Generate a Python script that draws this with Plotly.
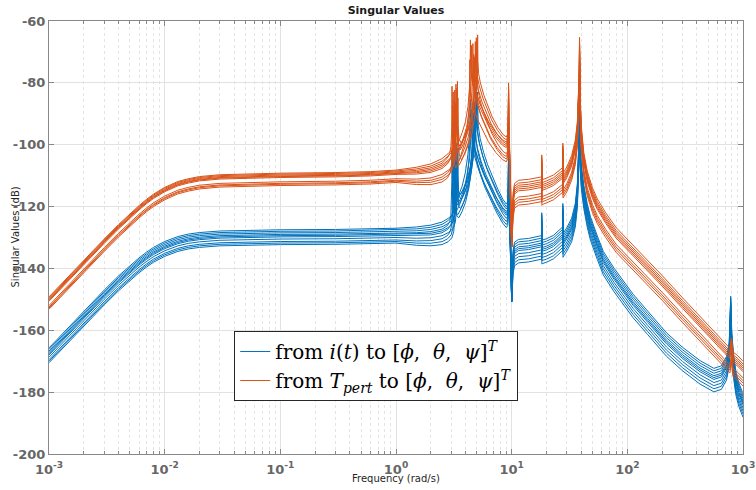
import numpy as np
import plotly.graph_objects as go

# ---------------- data ----------------
# Knot frequencies (rad/s) and top-line singular value (dB) of each family
ORANGE_FREQ = [0.001, 0.002, 0.003, 0.004, 0.005, 0.006, 0.007, 0.008, 0.01, 0.013,
               0.016, 0.02, 0.03, 0.05, 0.1, 0.3, 0.6, 1.0, 1.5, 2.0,
               2.5, 2.8, 3.0, 3.1, 3.16, 3.19, 3.2, 3.21, 3.24, 3.3,
               3.45, 3.7, 4.0, 4.3, 4.55, 4.7, 4.77, 4.8, 4.83, 4.9,
               5.1, 5.5, 6.0, 6.6, 7.5, 8.4, 9.0, 9.25, 9.35, 9.4,
               9.45, 9.6, 9.8, 9.93, 10.0, 10.1, 10.3, 10.6, 11.5, 14.0,
               18.15, 18.2, 18.25, 18.5, 20.0, 23.0, 27.6, 27.7, 27.8, 28.3,
               30.0, 33.0, 35.5, 37.0, 38.0, 38.4, 38.6, 38.8, 39.2,
               40.0, 42.0, 45.0, 50.0, 55.0, 65.0, 80.0, 100.0, 150.0, 200.0,
               300.0, 500.0, 700.0, 770.0, 795.0, 820.0, 900.0, 1000.0]
ORANGE_DB = [-149.2, -137.3, -130.5, -125.8, -122.3, -119.7, -117.6, -116.0, -113.8, -111.9,
             -111.0, -110.3, -109.7, -109.4, -109.2, -109.0, -108.7, -108.2, -107.3, -106.2,
             -104.5, -102.8, -101.3, -99.0, -95.0, -88.0, -79.5, -88.0, -94.0, -98.0,
             -99.5, -97.5, -94.5, -91.0, -86.0, -80.0, -74.0, -64.5, -73.0, -77.0,
             -80.0, -84.0, -87.5, -91.0, -94.5, -96.8, -97.5, -96.5, -90.0, -80.0,
             -92.0, -101.0, -112.0, -122.0, -133.0, -122.0, -115.5, -112.5, -111.5, -111.2,
             -110.4, -103.3, -111.6, -111.3, -110.8, -109.8, -107.4, -99.5, -109.2, -108.8,
             -107.2, -103.5, -98.5, -92.5, -84.0, -76.0, -65.3, -76.0, -85.0,
             -94.0, -102.5, -108.5, -114.0, -117.5, -122.0, -126.8, -130.5, -137.5, -142.3,
             -149.5, -158.5, -164.2, -165.8, -162.5, -167.0, -168.2, -170.0]

BLUE_FREQ = [0.001, 0.002, 0.003, 0.004, 0.005, 0.006, 0.007, 0.008, 0.01, 0.013,
             0.016, 0.02, 0.03, 0.05, 0.1, 0.3, 0.6, 1.0, 1.5, 2.0,
             2.5, 2.8, 3.0, 3.1, 3.16, 3.19, 3.2, 3.21, 3.24, 3.3,
             3.45, 3.7, 4.0, 4.3, 4.55, 4.7, 4.77, 4.8, 4.83, 4.9,
             5.1, 5.5, 6.0, 6.6, 7.5, 8.4, 9.0, 9.25, 9.35, 9.4,
             9.45, 9.6, 9.8, 9.93, 10.0, 10.1, 10.3, 10.6, 11.5, 14.0,
             18.15, 18.2, 18.25, 18.5, 20.0, 23.0, 27.6, 27.7, 27.8, 28.3,
             30.0, 33.0, 35.5, 37.0, 38.0, 38.4, 38.6, 38.8, 39.2,
             40.0, 42.0, 45.0, 48.0, 55.0, 62.0, 77.0, 100.0, 112.0, 150.0,
             218.0, 300.0, 425.0, 560.0, 650.0, 720.0, 760.0, 783.0, 800.0, 830.0,
             870.0, 920.0, 1000.0]
BLUE_DB = [-165.7, -153.8, -147.0, -142.4, -139.1, -136.6, -134.7, -133.2, -131.3, -129.7,
           -128.9, -128.4, -127.9, -127.65, -127.5, -127.4, -127.2, -127.0, -126.6, -126.0,
           -125.0, -123.8, -122.5, -120.5, -116.0, -109.0, -99.5, -108.0, -113.0, -115.5,
           -116.0, -114.0, -111.0, -106.5, -100.5, -94.5, -89.0, -83.0, -90.0, -94.0,
           -98.0, -102.5, -106.5, -110.0, -114.5, -117.8, -119.2, -118.5, -113.0, -100.0,
           -114.0, -122.0, -130.0, -140.0, -150.7, -140.0, -134.0, -131.5, -130.6, -130.3,
           -129.4, -122.0, -131.0, -130.8, -130.4, -129.3, -126.6, -119.0, -128.8, -128.3,
           -126.8, -123.8, -119.0, -112.5, -103.0, -95.0, -85.0, -95.0, -101.0,
           -106.5, -113.0, -119.0, -123.3, -129.5, -134.5, -140.0, -146.0, -148.3, -153.8,
           -160.8, -165.5, -169.8, -172.3, -171.5, -168.5, -164.0, -149.0, -161.0, -168.0,
           -173.5, -177.0, -180.5]

# notch at 10 rad/s is common to all the lines of a family
NOTCH_FREQ = 10.0

# per-line offsets (dB) from the top line: below 1 rad/s / above 2.8 rad/s
ORANGE_OFF_LOW = [0.0, -0.3, -0.6, -0.9, -1.1, -1.4, -2.8, -3.3, -3.6, -4.0]
ORANGE_OFF_HIGH = [0.0, -0.9, -1.6, -2.2, -2.8, -3.4, -5.4, -6.3, -7.1, -8.0]
BLUE_OFF_LOW = [0.0, -0.5, -1.0, -1.5, -1.9, -2.3, -3.0, -3.8, -4.3, -4.8]
BLUE_OFF_HIGH = [0.0, -0.8, -1.6, -2.4, -3.0, -3.6, -4.6, -5.6, -6.6, -7.6]
OFF_BAND = [1.0, 2.8]   # rad/s: spread widens between these frequencies

# per-line frequencies (rad/s) of the two low flexible modes
ORANGE_MODE1 = [3.40, 3.30, 3.05, 3.36, 3.22, 3.12, 3.43, 3.18, 3.27, 3.08]
ORANGE_MODE2 = [5.08, 4.95, 4.40, 4.85, 4.62, 4.50, 5.02, 4.70, 4.78, 4.35]
BLUE_MODE1 = [3.36, 3.24, 3.43, 3.05, 3.30, 3.15, 3.40, 3.10, 3.20, 3.27]
BLUE_MODE2 = [5.05, 4.90, 4.98, 4.40, 4.75, 4.55, 4.82, 4.45, 4.65, 4.70]

# base-curve mode positions (anchors of the knot frequencies)
BASE_ANCHORS = [2.7, 3.2, 4.8, 9.0]

TICK_X = [1e-3, 1e-2, 1e-1, 1e0, 1e1, 1e2, 1e3]
TICK_X_TEXT = ["10<sup>-3</sup>", "10<sup>-2</sup>", "10<sup>-1</sup>", "10<sup>0</sup>",
               "10<sup>1</sup>", "10<sup>2</sup>", "10<sup>3</sup>"]
TICK_Y = [-200, -180, -160, -140, -120, -100, -80, -60]
TICK_Y_TEXT = ["-200", "-180", "-160", "-140", "-120", "-100", "-80", "-60"]

LEGEND_BLUE = ("from <i>i</i>(<i>t</i>) to [<i>ϕ</i>,\u00a0 <i>θ</i>,\u00a0 <i>ψ</i>]"
               "<sup><i>T</i></sup>")
LEGEND_ORANGE = ("from <i>T<sub>pert</sub></i> to [<i>ϕ</i>,\u00a0 <i>θ</i>,\u00a0 <i>ψ</i>]"
                 "<sup><i>T</i></sup>")

BLUE = "#0072BD"
ORANGE = "#D95319"


def line_curve(freq, db, off_low, off_high, m1, m2):
    f = np.array(freq, dtype=float)
    d = np.array(db, dtype=float)
    # place the two modes of this line
    a = np.log10(BASE_ANCHORS)
    b = np.log10([BASE_ANCHORS[0], m1, m2, BASE_ANCHORS[3]])
    inside = (f > BASE_ANCHORS[0]) & (f < BASE_ANCHORS[3])
    f2 = f.copy()
    f2[inside] = 10 ** np.interp(np.log10(f[inside]), a, b)
    w = np.clip((np.log10(f) - np.log10(OFF_BAND[0])) /
                (np.log10(OFF_BAND[1]) - np.log10(OFF_BAND[0])), 0, 1)
    off = off_low + (off_high - off_low) * w
    off[f == NOTCH_FREQ] = 0.0
    return f2, d + off


fig = go.Figure()

families = [
    (BLUE_FREQ, BLUE_DB, BLUE_OFF_LOW, BLUE_OFF_HIGH, BLUE_MODE1, BLUE_MODE2, BLUE, LEGEND_BLUE),
    (ORANGE_FREQ, ORANGE_DB, ORANGE_OFF_LOW, ORANGE_OFF_HIGH, ORANGE_MODE1, ORANGE_MODE2, ORANGE, LEGEND_ORANGE),
]
for freq, db, olo, ohi, m1s, m2s, col, name in families:
    for k in range(len(olo)):
        x, y = line_curve(freq, db, olo[k], ohi[k], m1s[k], m2s[k])
        fig.add_trace(go.Scatter(
            x=x, y=y, mode="lines", line=dict(color=col, width=1),
            name=name, showlegend=(k == 0), legendgroup=name, hoverinfo="skip"))

minor_vals = [m * 10.0 ** e for e in range(-3, 3) for m in range(2, 10)]

axis_font = dict(family="DejaVu Sans", size=13, color="#666666", weight="bold")

fig.update_layout(
    width=756, height=490,
    margin=dict(l=49, r=13, t=21, b=36),
    paper_bgcolor="white", plot_bgcolor="white",
    title=dict(text="<b>Singular Values</b>", x=0.5238, xanchor="center",
               y=0.979, yanchor="middle",
               font=dict(family="DejaVu Sans", size=11, color="#1a1a1a")),
    showlegend=True,
    legend=dict(x=0.2669, xanchor="left", y=0.284, yanchor="top",
                bgcolor="white", bordercolor="#262626", borderwidth=1,
                font=dict(family="DejaVu Serif", size=20, color="#000000"),
                tracegroupgap=0, itemwidth=30),
    xaxis=dict(type="log", range=[-3, 3], tickvals=TICK_X, ticktext=TICK_X_TEXT,
               tickfont=axis_font, ticks="inside", ticklen=5, tickcolor="#888888",
               ticklabelstandoff=3,
               showline=True, linecolor="#888888", linewidth=1, mirror="ticks",
               showgrid=True, gridcolor="#e2e2e2", gridwidth=1, zeroline=False,
               automargin=False,
               minor=dict(tickvals=minor_vals, ticks="inside", ticklen=3, tickcolor="#888888",
                          showgrid=True, gridcolor="#e4e4e4", griddash="dot", gridwidth=1)),
    yaxis=dict(range=[-200, -60], tickvals=TICK_Y, ticktext=TICK_Y_TEXT, tickfont=axis_font,
               ticks="inside", ticklen=5, tickcolor="#888888",
               showline=True, linecolor="#888888", linewidth=1, mirror="ticks",
               showgrid=True, gridcolor="#e2e2e2", gridwidth=1, zeroline=False,
               automargin=False),
    annotations=[
        dict(text="Frequency (rad/s)", xref="paper", yref="paper", x=0.5, y=0,
             xanchor="center", yanchor="middle", yshift=-24, showarrow=False,
             font=dict(family="DejaVu Sans", size=10, color="#262626")),
        dict(text="Singular Values (dB)", xref="paper", yref="paper", x=0, y=0.5,
             xanchor="center", yanchor="middle", xshift=-34, textangle=-90, showarrow=False,
             font=dict(family="DejaVu Sans", size=10, color="#262626")),
    ],
)

fig.write_html("out.html", config={"displayModeBar": False},
               post_script="document.body.style.margin='0px';")
